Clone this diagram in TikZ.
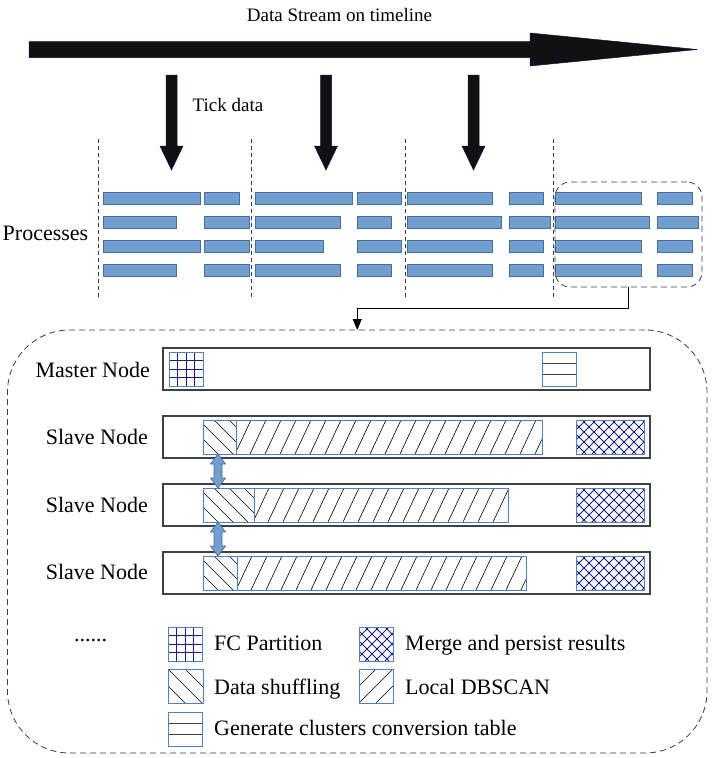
\documentclass[tikz,border=0pt]{standalone}
\usepackage{fontspec}
\setmainfont{Liberation Serif}
\usetikzlibrary{arrows.meta}
\definecolor{barfill}{RGB}{114,159,207}
\definecolor{bardraw}{RGB}{65,113,156}
\definecolor{regblue}{RGB}{79,129,189}
\definecolor{navyline}{RGB}{25,25,130}
\definecolor{boxgray}{RGB}{64,64,64}
\definecolor{dashgray}{RGB}{60,60,60}
\definecolor{arrowblack}{RGB}{17,17,17}
\tikzset{
  barstyle/.style={fill=barfill,draw=bardraw,line width=0.9pt},
  hatchline/.style={draw=black,line width=0.6pt},
  crossline/.style={draw=navyline,line width=0.8pt},
  regionline/.style={draw=regblue,line width=0.9pt},
  nodebox/.style={draw=boxgray,line width=1.1pt,rectangle,inner sep=0pt,outer sep=0pt,minimum width=487pt,minimum height=42pt},
  dashbox/.style={draw=dashgray,line width=0.8pt,dash pattern=on 6pt off 4pt,rectangle,inner sep=0pt,outer sep=0pt},
  vdash/.style={draw=dashgray,line width=0.7pt,dash pattern=on 4pt off 3pt},
  bigtxt/.style={font=\fontsize{22}{26}\selectfont,inner sep=0pt},
  toptxt/.style={font=\fontsize{19}{23}\selectfont,inner sep=0pt},
  blackarrow/.style={fill=arrowblack,draw=arrowblack!70!blue,line width=0.5pt},
  bluearrow/.style={fill=barfill,draw=bardraw,line width=0.7pt},
}
% bar: x1 x2 ytop
\newcommand\pbar[3]{\draw[barstyle] (#1,#3) rectangle (#2,#3+12);}
% hatch: x1 y1 x2 y2 spacing dx offset count style
\newcommand\hatch[9]{%
  \begin{scope}
    \clip (#1,#2) rectangle (#3,#4);
    \foreach \k in {0,...,#8}{\draw[#9] ({#1+#7+\k*#5},#4) -- ++({#6},{#2-#4});}
  \end{scope}}
% local DBSCAN region
\newcommand\dbscan[4]{\hatch{#1}{#2}{#3}{#4}{15}{16}{-16}{25}{hatchline}\draw[regionline] (#1,#2) rectangle (#3,#4);}
% data shuffling region
\newcommand\shuffle[4]{\hatch{#1}{#2}{#3}{#4}{15}{-34}{0}{8}{hatchline}\draw[regionline] (#1,#2) rectangle (#3,#4);}
% merge region (cross hatch)
\newcommand\merge[4]{%
  \hatch{#1}{#2}{#3}{#4}{10}{34}{-34}{12}{crossline}%
  \hatch{#1}{#2}{#3}{#4}{10}{-34}{0}{12}{crossline}%
  \draw[regionline] (#1,#2) rectangle (#3,#4);}
% FC grid 4x4
\newcommand\fcgrid[2]{%
  \foreach \i in {1,2,3}{\draw[crossline] ({#1+\i*8.5},#2) -- ++(0,34); \draw[crossline] (#1,{#2+\i*8.5}) -- ++(34,0);}
  \draw[regionline] (#1,#2) rectangle ++(34,34);}
% conversion table icon
\newcommand\convtable[2]{%
  \draw[boxgray,line width=1pt] (#1,#2+11) -- ++(34,0) (#1,#2+22) -- ++(34,0);
  \draw[regionline] (#1,#2) rectangle ++(34,34);}
% tick arrow
\newcommand\tickarrow[1]{\filldraw[blackarrow] ({#1-5.5},75) -- ({#1+5.5},75) -- ({#1+5.5},146) -- ({#1+11.5},146) -- (#1,170) -- ({#1-11.5},146) -- ({#1-5.5},146) -- cycle;}
% blue double arrow
\newcommand\dblarrow[3]{\filldraw[bluearrow] (#1,#2) -- ({#1+7.5},{#2+10}) -- ({#1+4},{#2+10}) -- ({#1+4},{#3-10}) -- ({#1+7.5},{#3-10}) -- (#1,#3) -- ({#1-7.5},{#3-10}) -- ({#1-4},{#3-10}) -- ({#1-4},{#2+10}) -- ({#1-7.5},{#2+10}) -- cycle;}
\begin{document}
\begin{tikzpicture}[x=1pt,y=-1pt]
\useasboundingbox (0,0) rectangle (715,758);
% top timeline arrow
\filldraw[blackarrow] (29,41.5) -- (530,41.5) -- (530,33) -- (697,49.5) -- (530,66) -- (530,57.5) -- (29,57.5) -- cycle;
\node[toptxt] (stream) at (339.5,15) {Data Stream on timeline};
\tickarrow{171.5}
\tickarrow{326}
\tickarrow{473.5}
\node[toptxt] (tick) at (228,105) {Tick data};
\node[bigtxt] (proc) at (45.5,233) {Processes};
% dashed separators
\foreach \x in {98,251,405,553}{\draw[vdash] (\x,139) -- (\x,297);}
% bars column 1
\pbar{103}{200}{192}\pbar{204}{239}{192}
\pbar{103}{176}{216}\pbar{204}{249}{216}
\pbar{103}{200}{240}\pbar{204}{249}{240}
\pbar{103}{176}{264}\pbar{204}{249}{264}
% column 2
\pbar{255}{352}{192}\pbar{357}{401}{192}
\pbar{255}{340}{216}\pbar{357}{391}{216}
\pbar{255}{323}{240}\pbar{357}{401}{240}
\pbar{255}{340}{264}\pbar{357}{391}{264}
% column 3
\pbar{407}{492}{192}\pbar{509}{543}{192}
\pbar{407}{501}{216}\pbar{509}{550}{216}
\pbar{407}{492}{240}\pbar{509}{543}{240}
\pbar{407}{492}{264}\pbar{509}{543}{264}
% column 4
\pbar{555}{641}{192}\pbar{657}{692}{192}
\pbar{555}{649}{216}\pbar{657}{698}{216}
\pbar{555}{641}{240}\pbar{657}{692}{240}
\pbar{555}{641}{264}\pbar{657}{692}{264}
% dashed boxes
\node[dashbox,rounded corners=15pt,minimum width=147pt,minimum height=105pt] (small) at (628.5,234.5) {};
\node[dashbox,rounded corners=62pt,minimum width=699.5pt,minimum height=423pt] (big) at (357.25,541.5) {};
\draw[line width=0.8pt,-{Triangle[width=9pt,length=11pt]}] (small.south) -- ++(0,21) -| (big.north);
% node rows
\node[nodebox] (master) at (406.5,369) {};
\node[nodebox] (s1) at (406.5,437) {};
\node[nodebox] (s2) at (406.5,505) {};
\node[nodebox] (s3) at (406.5,573) {};
\node[bigtxt,anchor=east] (lm) at (150,370) {Master Node};
\node[bigtxt,anchor=east] (l1) at (148,437) {Slave Node};
\node[bigtxt,anchor=east] (l2) at (148,505) {Slave Node};
\node[bigtxt,anchor=east] (l3) at (148,572) {Slave Node};
% master contents
\fcgrid{169}{352}
\convtable{542}{352}
% slave 1
\shuffle{203}{420}{236}{454}
\dbscan{236}{420}{542}{454}
\merge{576}{420}{644}{454}
% slave 2
\shuffle{203}{488}{254}{522}
\dbscan{254}{488}{508}{522}
\merge{576}{488}{644}{522}
% slave 3
\shuffle{203}{556}{237}{590}
\dbscan{237}{556}{526}{590}
\merge{576}{556}{644}{590}
% blue double arrows
\dblarrow{218}{454}{488}
\dblarrow{218}{522}{556}
% legend
\node[bigtxt,anchor=base west] (dots) at (74,641) {......};
\fcgrid{168}{627}
\node[bigtxt,anchor=base west] (lfc) at (214,650) {FC Partition};
\merge{359}{627}{393}{661}
\node[bigtxt,anchor=base west] (lmg) at (405,650) {Merge and persist results};
\hatch{168}{669}{203}{703}{17}{-34}{0}{5}{hatchline}\draw[regionline] (168,669) rectangle (203,703);
\node[bigtxt,anchor=base west] (lds) at (214,694) {Data shuffling};
\hatch{359}{669}{393}{703}{17}{34}{-34}{5}{hatchline}\draw[regionline] (359,669) rectangle (393,703);
\node[bigtxt,anchor=base west] (ldb) at (405,694) {Local DBSCAN};
\convtable{168}{712}
\node[bigtxt,anchor=base west] (lgc) at (214,735) {Generate clusters conversion table};
\end{tikzpicture}
\end{document}
